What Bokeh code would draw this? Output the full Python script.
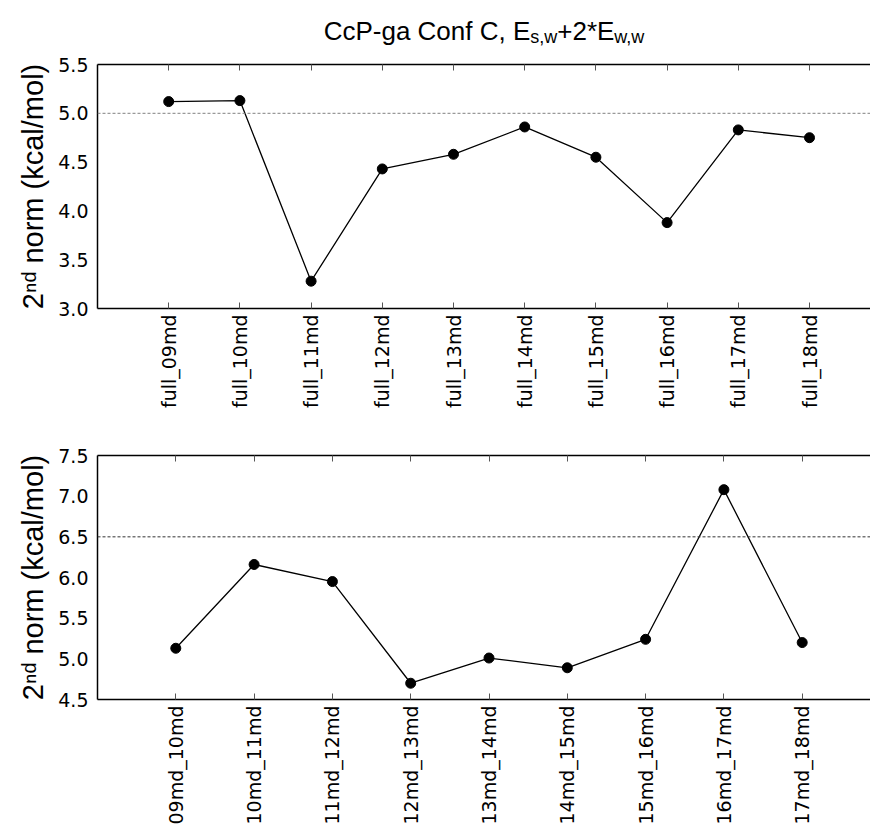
import math
from bokeh.plotting import figure
from bokeh.layouts import column
from bokeh.models import Range1d, FixedTicker, Span, LinearAxis, NumeralTickFormatter
from bokeh.core.properties import value
from bokeh.embed import file_html
from bokeh.resources import INLINE

# ---------------- data ----------------
top_labels = ["full_09md", "full_10md", "full_11md", "full_12md", "full_13md",
              "full_14md", "full_15md", "full_16md", "full_17md", "full_18md"]
top_values = [5.12, 5.13, 3.28, 4.43, 4.58, 4.86, 4.55, 3.88, 4.83, 4.75]
top_threshold = 5.0
top_yticks = [3.0, 3.5, 4.0, 4.5, 5.0, 5.5]

bot_labels = ["09md_10md", "10md_11md", "11md_12md", "12md_13md", "13md_14md",
              "14md_15md", "15md_16md", "16md_17md", "17md_18md"]
bot_values = [5.13, 6.16, 5.95, 4.70, 5.01, 4.89, 5.24, 7.08, 5.20]
bot_threshold = 6.5
bot_yticks = [4.5, 5.0, 5.5, 6.0, 6.5, 7.0, 7.5]

title_parts = [("CcP-ga Conf C, E", False), ("s,w", True), ("+2*E", False), ("w,w", True)]
y_label = "2\u207f\u1d48 norm (kcal/mol)"

# ---------------- layout helpers ----------------
W = 870
FRAME_L = 97        # frame left edge (page coordinates)
FRAME_H = 244
FRAME_W = W - FRAME_L
TITLE_H = 55
TICK_FONT = "19px"
SANS = "Liberation Sans"

ARIAL = {'C': 722, 'c': 500, 'P': 667, '-': 333, 'g': 556, 'a': 556, ' ': 278, 'o': 556,
         'n': 556, 'f': 278, ',': 278, 'E': 667, 's': 500, 'w': 722, '+': 584, '2': 556,
         '*': 389, 'd': 556, 'r': 333, 'm': 833, '(': 333, 'k': 500, 'l': 222, '/': 278, ')': 333}


def tw(s, size):
    return sum(ARIAL[ch] for ch in s) * size / 1000.0


def make_panel(labels, values, threshold, yticks, height, top_border, tick_px, thr_color):
    n = len(labels)
    xs = list(range(1, n + 1))
    x_end = FRAME_W / tick_px
    p = figure(width=W, height=height, output_backend="svg", toolbar_location=None,
               x_range=Range1d(0, x_end), y_range=Range1d(yticks[0], yticks[-1]),
               min_border_left=FRAME_L, min_border_right=0, min_border_top=top_border,
               min_border_bottom=height - top_border - FRAME_H)
    p.outline_line_color = None
    p.grid.visible = False
    p.background_fill_color = "white"
    p.border_fill_color = "white"

    xa = p.xaxis[0]
    xa.ticker = FixedTicker(ticks=xs)
    xa.major_label_overrides = {i: lab for i, lab in zip(xs, labels)}
    xa.major_label_orientation = math.pi / 2
    xa.major_label_text_font = "DejaVu Sans"
    xa.major_label_text_font_size = TICK_FONT
    xa.major_label_text_color = "black"
    xa.major_label_standoff = 6
    xa.major_tick_in = 6
    xa.major_tick_out = 0
    xa.major_tick_line_color = "#555555"
    xa.minor_tick_line_color = None
    xa.axis_line_color = "black"
    xa.axis_line_width = 1.5

    top_ax = LinearAxis(ticker=FixedTicker(ticks=xs))
    top_ax.major_label_overrides = {i: "" for i in xs}
    top_ax.major_label_text_font_size = "2px"
    top_ax.major_label_standoff = 0
    top_ax.major_tick_in = 6
    top_ax.major_tick_out = 0
    top_ax.major_tick_line_color = "#555555"
    top_ax.minor_tick_line_color = None
    top_ax.axis_line_color = "black"
    top_ax.axis_line_width = 1.5
    p.add_layout(top_ax, "above")

    ya = p.yaxis[0]
    ya.ticker = FixedTicker(ticks=yticks)
    ya.formatter = NumeralTickFormatter(format="0.0")
    ya.major_label_text_font = "DejaVu Sans"
    ya.major_label_text_font_size = TICK_FONT
    ya.major_label_text_color = "black"
    ya.major_label_standoff = 9
    ya.major_tick_in = 0
    ya.major_tick_out = 0
    ya.minor_tick_line_color = None
    ya.axis_line_color = "black"
    ya.axis_line_width = 1.5
    ya.axis_label = y_label
    ya.axis_label_text_font = SANS
    ya.axis_label_text_font_style = "normal"
    ya.axis_label_text_font_size = "29px"
    ya.axis_label_text_color = "black"
    ya.axis_label_standoff = 6

    p.add_layout(Span(location=threshold, dimension="width", line_color=thr_color,
                      line_dash="3 2", line_width=1))
    p.line(xs, values, line_color="black", line_width=1.3)
    p.scatter(xs, values, size=10, fill_color="black", line_color="black")
    return p


# title strip (page pixel coordinates)
title_fig = figure(width=W, height=TITLE_H, output_backend="svg", toolbar_location=None,
                   x_range=Range1d(FRAME_L, W), y_range=Range1d(TITLE_H, 0),
                   x_axis_location=None, y_axis_location=None,
                   min_border_left=FRAME_L, min_border_right=0,
                   min_border_top=0, min_border_bottom=0)
title_fig.outline_line_color = None
title_fig.grid.visible = False
title_fig.border_fill_color = "white"

t_big, t_small = 26, 18
total = sum(tw(t, t_small if s else t_big) for t, s in title_parts)
x_cursor = 484 - total / 2
for text, sub in title_parts:
    size = t_small if sub else t_big
    title_fig.text(x=[x_cursor], y=[30 + (6 if sub else 0)], text=[text],
                   text_align="left", text_baseline="alphabetic",
                   text_font=value(SANS), text_font_size=value(f"{size}px"), text_color="black")
    x_cursor += tw(text, size)

p1 = make_panel(top_labels, top_values, top_threshold, top_yticks,
                height=420 - TITLE_H, top_border=64 - TITLE_H, tick_px=71.2, thr_color="#808080")
p2 = make_panel(bot_labels, bot_values, bot_threshold, bot_yticks,
                height=408, top_border=35, tick_px=78.3, thr_color="#333333")

layout = column(title_fig, p1, p2, spacing=0)
open("out.html", "w").write(file_html(layout, INLINE))
